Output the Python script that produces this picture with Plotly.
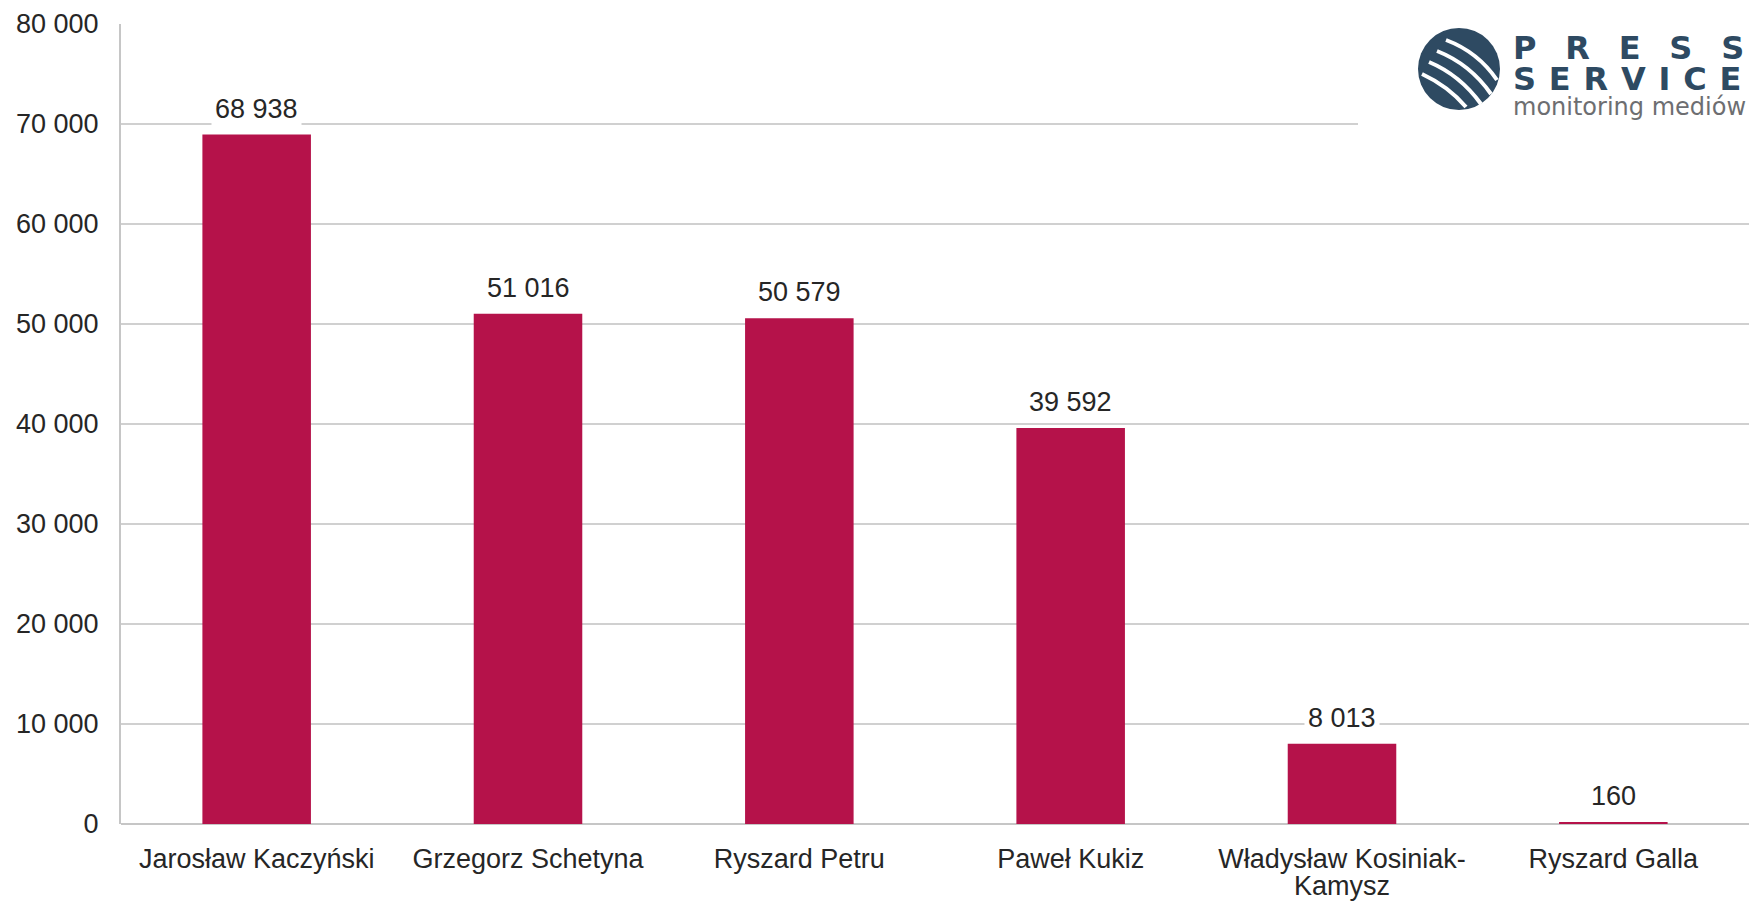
import plotly.graph_objects as go

candidates = [
    "Jarosław Kaczyński",
    "Grzegorz Schetyna",
    "Ryszard Petru",
    "Paweł Kukiz",
    "Władysław Kosiniak-Kamysz",
    "Ryszard Galla",
]
# the long name wraps, its second line is added below as a separate text
tick_labels = [
    "Jarosław Kaczyński",
    "Grzegorz Schetyna",
    "Ryszard Petru",
    "Paweł Kukiz",
    "Władysław Kosiniak-",
    "Ryszard Galla",
]
mentions = [68938, 51016, 50579, 39592, 8013, 160]
y_ticks = [0, 10000, 20000, 30000, 40000, 50000, 60000, 70000, 80000]

BAR = "#b5124a"
TEXT = "#262626"
NAVY = "#2e4a62"

W, H = 1760, 901
L, R, T, B = 121, 11, 24, 77


def px(x):
    # page pixel -> paper x
    return (x - L) / (W - L - R)


def py(y):
    # page pixel -> paper y
    return (H - B - y) / (H - T - B)


fig = go.Figure(go.Bar(
    x=candidates, y=mentions, marker_color=BAR, marker_line_width=0,
    hoverinfo="x+y",
))

# value labels with white box over the gridlines
for name, v in zip(candidates, mentions):
    fig.add_annotation(
        x=name, y=v, text=f"{v:,}".replace(",", " "), showarrow=False,
        yanchor="middle", yshift=26, bgcolor="white", borderpad=3,
        font=dict(size=27, color=TEXT),
    )

fig.add_annotation(
    x=candidates[4], y=0, text="Kamysz", showarrow=False,
    yanchor="middle", yshift=-62, font=dict(size=27, color=TEXT),
)

# logo: white patch over the grid, dark circle with streaks, text
shapes = [
    dict(type="rect", xref="paper", yref="paper", layer="above",
         x0=px(1358), x1=px(1760), y0=py(140), y1=py(0),
         fillcolor="white", line_width=0),
    dict(type="circle", xref="paper", yref="paper", layer="above",
         x0=px(1418), x1=px(1500), y0=py(110), y1=py(28),
         fillcolor=NAVY, line_width=0),
]
streaks = [
    ((1446, 40), (1478, 52), (1497, 80)),
    ((1437, 51), (1470, 64), (1491, 94)),
    ((1429, 62), (1460, 75), (1481, 104)),
    ((1422, 74), (1448, 86), (1466, 107)),
]
for (x0, y0), (cx, cy), (x1, y1) in streaks:
    shapes.append(dict(
        type="path", xref="paper", yref="paper", layer="above",
        path=f"M {px(x0)},{py(y0)} Q {px(cx)},{py(cy)} {px(x1)},{py(y1)}",
        line=dict(color="white", width=4),
    ))
fig.update_layout(shapes=shapes)

fig.add_annotation(xref="paper", yref="paper", x=px(1511), y=py(48),
                   xanchor="left", yanchor="middle", showarrow=False,
                   text="<b>" + "\u2002\u2009\u2009".join("PRESS") + "</b>",
                   font=dict(family="DejaVu Sans", size=32, color=NAVY))
fig.add_annotation(xref="paper", yref="paper", x=px(1511), y=py(79),
                   xanchor="left", yanchor="middle", showarrow=False,
                   text="<b>" + "\u2009\u2009".join("SERVICE") + "</b>",
                   font=dict(family="DejaVu Sans", size=32, color=NAVY))
fig.add_annotation(xref="paper", yref="paper", x=px(1511), y=py(107),
                   xanchor="left", yanchor="middle", showarrow=False,
                   text="monitoring mediów",
                   font=dict(family="DejaVu Sans", size=24, color="#6d6e71"))

fig.update_layout(
    width=W, height=H,
    margin=dict(l=L, r=R, t=T, b=B, pad=0),
    paper_bgcolor="white", plot_bgcolor="white",
    font=dict(family="Liberation Sans, Arial, sans-serif", size=27, color=TEXT),
    separators=". ",
    bargap=0.6,
    showlegend=False,
    xaxis=dict(
        tickvals=candidates, ticktext=tick_labels,
        showgrid=False, showline=False, ticks="",
        ticklabelstandoff=16, automargin=False,
        tickfont=dict(size=27, color=TEXT),
    ),
    yaxis=dict(
        range=[0, 80000], tickvals=y_ticks, tickformat=",d",
        showgrid=True, gridcolor="#d0d0d0", gridwidth=1.5,
        showline=True, linecolor="#c6c6c6", linewidth=2,
        zeroline=True, zerolinecolor="#c6c6c6", zerolinewidth=2,
        ticks="", ticklabelstandoff=15, automargin=False,
        tickfont=dict(size=27, color=TEXT),
    ),
)

# drop the default body margin so the figure fills the window exactly
fig.write_html("out.html", config={"displayModeBar": False},
               post_script="document.body.style.margin = '0';")
